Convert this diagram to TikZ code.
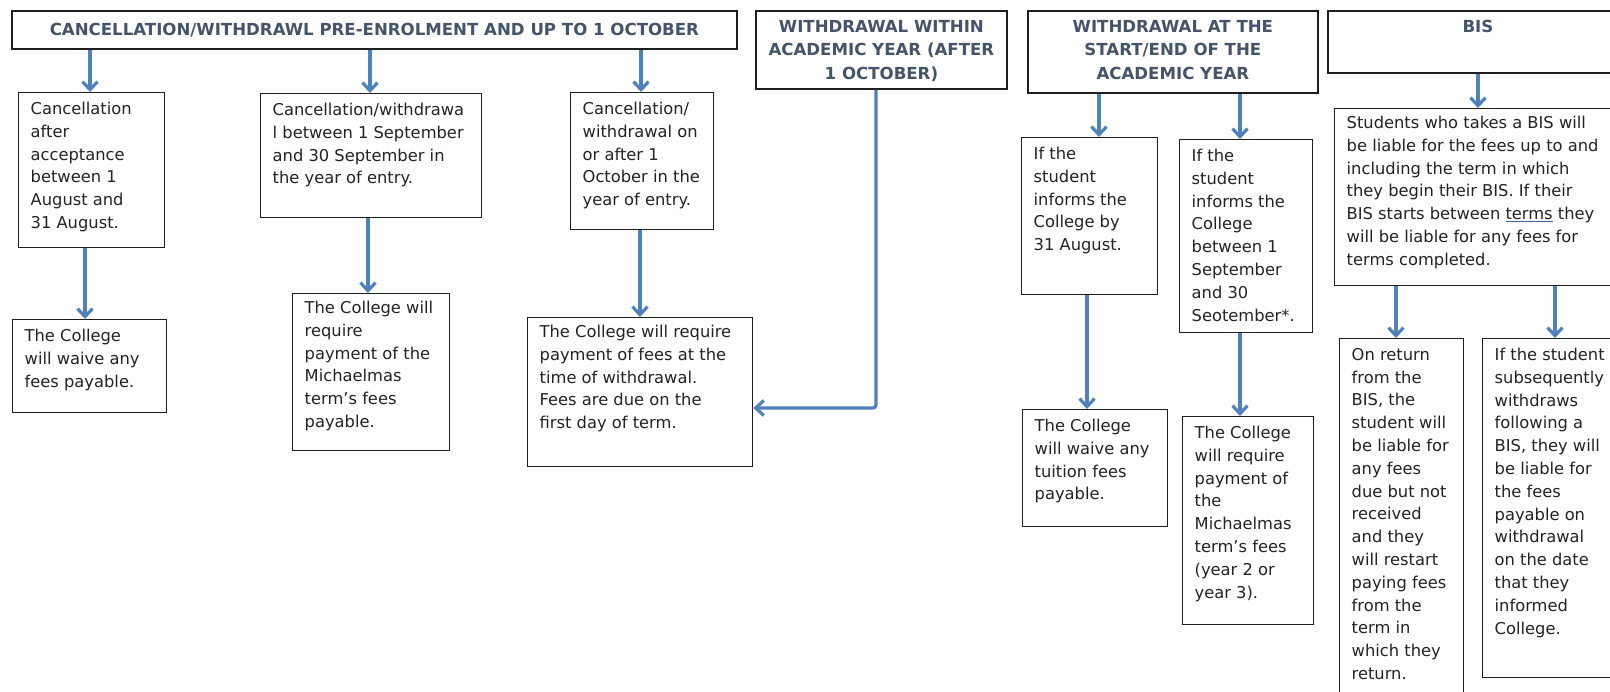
\documentclass[tikz,border=0pt]{standalone}
\usepackage{fontspec}
\setmainfont{DejaVu Sans}
\usetikzlibrary{arrows.meta}
\definecolor{arrowblue}{RGB}{79,129,189}
\definecolor{hdrtext}{RGB}{68,84,106}
\definecolor{bodytext}{RGB}{35,35,35}
\definecolor{edge}{RGB}{30,30,30}
\definecolor{ulblue}{RGB}{60,100,170}
\newcommand\bodyfont{\fontsize{16.3pt}{22.8pt}\selectfont}
\newcommand\hdrfont{\fontsize{16.6pt}{23.3pt}\selectfont\bfseries}
% left-aligned box text: width, height, top gap, text
\newcommand\lbox[4]{\vbox to #2{\hsize=#1\relax\leftskip=12pt\rightskip=-200pt plus 1fil\parindent=0pt\parskip=0pt\parfillskip=0pt plus 1fil\let\\\par\vskip#3\relax#4\par\vss}}
% centred header text: width, height, top gap, text
\newcommand\cbox[4]{\vbox to #2{\hsize=#1\relax\leftskip=-100pt plus 1fil\rightskip=-100pt plus 1fil\parindent=0pt\parskip=0pt\parfillskip=0pt\let\\\par\vskip#3\relax#4\par\vss}}
\begin{document}
\begin{tikzpicture}[x=1pt,y=-1pt,
  hdr/.style={draw=edge, line width=1.8pt, inner sep=0pt, anchor=north west, font=\hdrfont, text=hdrtext},
  bx/.style={draw=edge, line width=1.4pt, inner sep=0pt, anchor=north west, font=\bodyfont, text=bodytext},
  arr/.style={draw=arrowblue, line width=3.2pt, -{Straight Barb[length=8pt,width=15pt]}}]
\fill[white] (0,0) rectangle (1610,692);
\useasboundingbox (0,0) rectangle (1610,692);
\clip (0,0) rectangle (1610,692);

% headers
\node[hdr] (H1) at (11,10) {\cbox{725pt}{38pt}{12pt}{CANCELLATION/WITHDRAWL PRE-ENROLMENT AND UP TO 1 OCTOBER}};
\node[hdr] (H2) at (755,10) {\cbox{251pt}{78pt}{9.5pt}{WITHDRAWAL WITHIN\\ACADEMIC YEAR (AFTER\\1 OCTOBER)}};
\node[hdr] (H3) at (1027,10) {\cbox{290pt}{82pt}{9.5pt}{WITHDRAWAL AT THE\\START/END OF THE\\ACADEMIC YEAR}};
\node[hdr] (H4) at (1327,10) {\cbox{300pt}{62pt}{9.5pt}{BIS}};

% first column group
\node[bx] (A1) at (18,92) {\lbox{146pt}{155pt}{9.5pt}{Cancellation\\after\\acceptance\\between 1\\August and\\31 August.}};
\node[bx] (A2) at (260,93) {\lbox{221pt}{124pt}{9.5pt}{Cancellation/withdrawa\\l between 1 September\\and 30 September in\\the year of entry.}};
\node[bx] (A3) at (570,92) {\lbox{143pt}{137pt}{9.5pt}{Cancellation/\\withdrawal on\\or after 1\\October in the\\year of entry.}};
\node[bx] (B1) at (12,319) {\lbox{154pt}{93pt}{9.5pt}{The College\\will waive any\\fees payable.}};
\node[bx] (B2) at (292,293) {\lbox{157pt}{157pt}{7.5pt}{The College will\\require\\payment of the\\Michaelmas\\term’s fees\\payable.}};
\node[bx] (B3) at (527,317) {\lbox{225pt}{149pt}{7.5pt}{The College will require\\payment of fees at the\\time of withdrawal.\\Fees are due on the\\first day of term.}};

% start/end of year
\node[bx] (C1) at (1021,137) {\lbox{136pt}{157pt}{9.5pt}{If the\\student\\informs the\\College by\\31 August.}};
\node[bx] (C2) at (1179,139) {\lbox{133pt}{193pt}{9.5pt}{If the\\student\\informs the\\College\\between 1\\September\\and 30\\Seotember*.}};
\node[bx] (F1) at (1022,409) {\lbox{145pt}{117pt}{9.5pt}{The College\\will waive any\\tuition fees\\payable.}};
\node[bx] (F2) at (1182,416) {\lbox{131pt}{208pt}{9.5pt}{The College\\will require\\payment of\\the\\Michaelmas\\term’s fees\\(year 2 or\\year 3).}};

% BIS
\node[bx] (D) at (1334,108) {\lbox{291pt}{177pt}{7.5pt}{Students who takes a BIS will\\be liable for the fees up to and\\including the term in which\\they begin their BIS. If their\\BIS starts between \textcolor{ulblue}{\underline{\textcolor{bodytext}{terms}}} they\\will be liable for any fees for\\terms completed.}};
\node[bx] (E1) at (1339,338) {\lbox{124pt}{400pt}{9.5pt}{On return\\from the\\BIS, the\\student will\\be liable for\\any fees\\due but not\\received\\and they\\will restart\\paying fees\\from the\\term in\\which they\\return.}};
\node[bx] (E2) at (1482,338) {\lbox{146pt}{339pt}{9.5pt}{If the student\\subsequently\\withdraws\\following a\\BIS, they will\\be liable for\\the fees\\payable on\\withdrawal\\on the date\\that they\\informed\\College.}};

% connectors
\draw[arr] (H1.south -| 90,0) -- (A1.north -| 90,0);
\draw[arr] (H1.south -| 370,0) -- (A2.north -| 370,0);
\draw[arr] (H1.south -| 641,0) -- (A3.north -| 641,0);
\draw[arr] (A1.south -| 85,0) -- (B1.north -| 85,0);
\draw[arr] (A2.south -| 368,0) -- (B2.north -| 368,0);
\draw[arr] (A3.south -| 640,0) -- (B3.north -| 640,0);
\draw[arr, rounded corners=3pt] (H2.south -| 876,0) |- (B3.east |- 0,408);
\draw[arr] (H3.south -| 1099,0) -- (C1.north -| 1099,0);
\draw[arr] (H3.south -| 1240,0) -- (C2.north -| 1240,0);
\draw[arr] (C1.south -| 1087,0) -- (F1.north -| 1087,0);
\draw[arr] (C2.south -| 1240,0) -- (F2.north -| 1240,0);
\draw[arr] (H4.south -| 1478,0) -- (D.north -| 1478,0);
\draw[arr] (D.south -| 1396,0) -- (E1.north -| 1396,0);
\draw[arr] (D.south -| 1555,0) -- (E2.north -| 1555,0);
\end{tikzpicture}
\end{document}
